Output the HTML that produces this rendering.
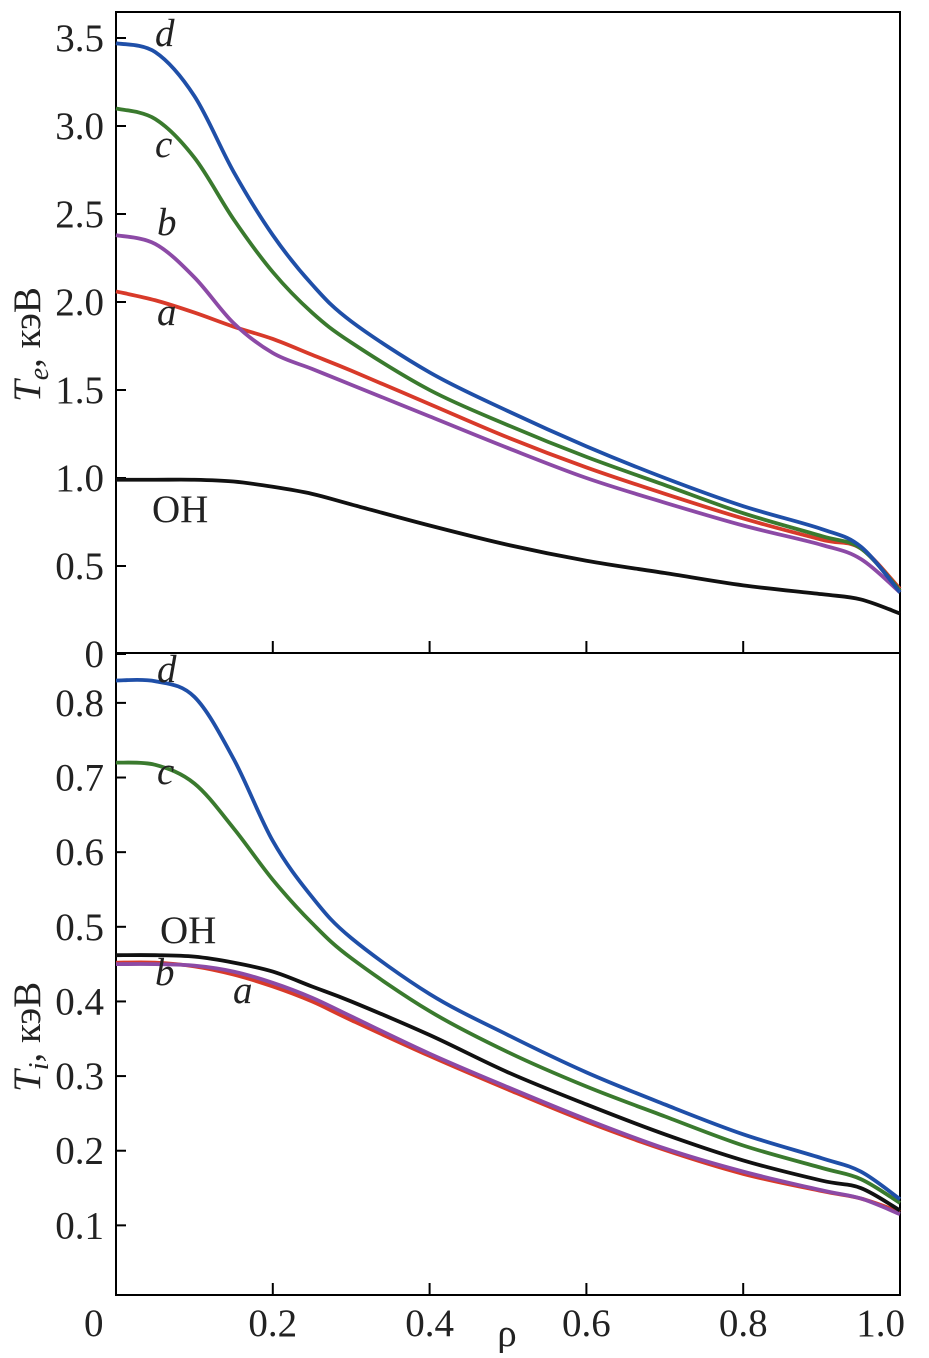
<!DOCTYPE html>
<html><head><meta charset="utf-8"><style>
html,body{margin:0;padding:0;background:#fff;}
svg text{font-family:"Liberation Serif",serif;fill:#222;}
</style></head><body>
<svg id="chart" width="929" height="1353" viewBox="0 0 929 1353" xmlns="http://www.w3.org/2000/svg">
<g id="g"></g>
</svg>
<script>
const rhoTop=[0,0.05,0.1,0.15,0.2,0.25,0.3,0.4,0.5,0.6,0.7,0.8,0.9,0.95,1.0];
const teD=[3.47,3.42,3.17,2.74,2.38,2.10,1.89,1.60,1.38,1.18,1.00,0.84,0.71,0.61,0.35];
const teC=[3.10,3.04,2.82,2.47,2.17,1.94,1.77,1.50,1.30,1.12,0.96,0.80,0.67,0.60,0.36];
const teB=[2.38,2.33,2.14,1.88,1.71,1.62,1.53,1.35,1.17,1.00,0.86,0.73,0.62,0.54,0.35];
const teA=[2.06,2.01,1.94,1.86,1.79,1.70,1.61,1.42,1.23,1.06,0.91,0.77,0.65,0.60,0.37];
const teOH=[0.99,0.99,0.99,0.98,0.95,0.91,0.85,0.73,0.62,0.53,0.46,0.39,0.34,0.31,0.23];
const tiD=[0.83,0.829,0.808,0.725,0.615,0.54,0.485,0.41,0.355,0.305,0.262,0.222,0.19,0.172,0.135];
const tiC=[0.72,0.717,0.692,0.632,0.563,0.505,0.458,0.387,0.332,0.286,0.246,0.207,0.177,0.162,0.13];
const tiOH=[0.462,0.462,0.46,0.452,0.44,0.42,0.40,0.355,0.305,0.262,0.222,0.187,0.16,0.15,0.12];
const tiB=[0.45,0.45,0.448,0.44,0.425,0.405,0.38,0.33,0.285,0.242,0.203,0.172,0.147,0.136,0.115];
const tiA=[0.452,0.452,0.447,0.436,0.42,0.4,0.375,0.327,0.282,0.239,0.201,0.169,0.146,0.136,0.118];
const yTicksTop=[0,0.5,1.0,1.5,2.0,2.5,3.0,3.5];
const yTickLabelsTop=["0","0.5","1.0","1.5","2.0","2.5","3.0","3.5"];
const yTicksBot=[0.1,0.2,0.3,0.4,0.5,0.6,0.7,0.8];
const yTickLabelsBot=["0.1","0.2","0.3","0.4","0.5","0.6","0.7","0.8"];
const xTicks=[0,0.2,0.4,0.6,0.8,1.0];
const xTickLabels=["0","0.2","0.4","0.6","0.8","1.0"];

const X=v=>116+v*784;
const YT=v=>654-v*176;
const YB=v=>1300-v*746.4;
const g=document.getElementById('g');
const NS='http://www.w3.org/2000/svg';
function mk(t,a){const e=document.createElementNS(NS,t);for(const k in a)e.setAttribute(k,a[k]);g.appendChild(e);return e;}
function path(xs,ys,Y,color,name){
  const p=xs.map((x,i)=>[X(x),Y(ys[i])]);
  let d='M'+p[0][0]+','+p[0][1];
  for(let i=0;i<p.length-1;i++){
    const p0=p[Math.max(i-1,0)],p1=p[i],p2=p[i+1],p3=p[Math.min(i+2,p.length-1)];
    const c1=[p1[0]+(p2[0]-p0[0])/6,p1[1]+(p2[1]-p0[1])/6];
    const c2=[p2[0]-(p3[0]-p1[0])/6,p2[1]-(p3[1]-p1[1])/6];
    d+=`C${c1[0]},${c1[1]} ${c2[0]},${c2[1]} ${p2[0]},${p2[1]}`;
  }
  const e=mk('path',{d:d,fill:'none',stroke:color,'stroke-width':3.8});
  
  
}
function txt(x,y,s,o){const e=mk('text',Object.assign({x:x,y:y,'font-size':39},o||{}));e.textContent=s;return e;}

let f=mk('rect',{x:116,y:12,width:784,height:641,fill:'none',stroke:'#000','stroke-width':2});

f=mk('rect',{x:116,y:653,width:784,height:642,fill:'none',stroke:'#000','stroke-width':2});


yTicksTop.forEach((v,i)=>{
  mk('line',{x1:116,x2:126,y1:YT(v),y2:YT(v),stroke:'#000','stroke-width':2});
  const t=txt(104,YT(v)+13,yTickLabelsTop[i],{'text-anchor':'end'});
  
});
yTicksBot.forEach((v,i)=>{
  mk('line',{x1:116,x2:126,y1:YB(v),y2:YB(v),stroke:'#000','stroke-width':2});
  const t=txt(104,YB(v)+13,yTickLabelsBot[i],{'text-anchor':'end'});
  
});
xTicks.forEach((v,i)=>{
  mk('line',{x1:X(v),x2:X(v),y1:653,y2:641,stroke:'#000','stroke-width':2});
  mk('line',{x1:X(v),x2:X(v),y1:1295,y2:1283,stroke:'#000','stroke-width':2});
  const a=i==0?'start':(i==xTicks.length-1?'end':'middle');
  const t=txt(i==0?84:(i==xTicks.length-1?905:X(v)),1336,xTickLabels[i],{'text-anchor':a});
  
});

path(rhoTop,teOH,YT,'#111','te-curve-oh');
path(rhoTop,teA,YT,'#d83a2a','te-curve-a');
path(rhoTop,teB,YT,'#8c4aa6','te-curve-b');
path(rhoTop,teC,YT,'#3a7a2e','te-curve-c');
path(rhoTop,teD,YT,'#1f4fa8','te-curve-d');
path(rhoTop,tiA,YB,'#d83a2a','ti-curve-a');
path(rhoTop,tiB,YB,'#8c4aa6','ti-curve-b');
path(rhoTop,tiOH,YB,'#111','ti-curve-oh');
path(rhoTop,tiC,YB,'#3a7a2e','ti-curve-c');
path(rhoTop,tiD,YB,'#1f4fa8','ti-curve-d');

const labels=[['d',155,46,1],['c',155,157,1],['b',157,235,1],['a',157,325,1],['OH',152,522,0],
 ['d',157,682,1],['c',157,784,1],['OH',160,943,0],['b',155,985,1],['a',233,1003,1]];
labels.forEach(l=>{const t=txt(l[1],l[2],l[0],l[3]?{'font-style':'italic'}:{});
 });

let t=mk('text',{x:0,y:0,'font-size':39,transform:'translate(40,402) rotate(-90)'});
t.innerHTML='<tspan font-style="italic">T</tspan><tspan font-style="italic" font-size="28" dy="8">e</tspan><tspan dy="-8">, кэВ</tspan>';

t=mk('text',{x:0,y:0,'font-size':39,transform:'translate(40,1092) rotate(-90)'});
t.innerHTML='<tspan font-style="italic">T</tspan><tspan font-style="italic" font-size="28" dy="8">i</tspan><tspan dy="-8">, кэВ</tspan>';

t=txt(507,1346,'ρ',{'text-anchor':'middle'});

</script>
</body></html>
